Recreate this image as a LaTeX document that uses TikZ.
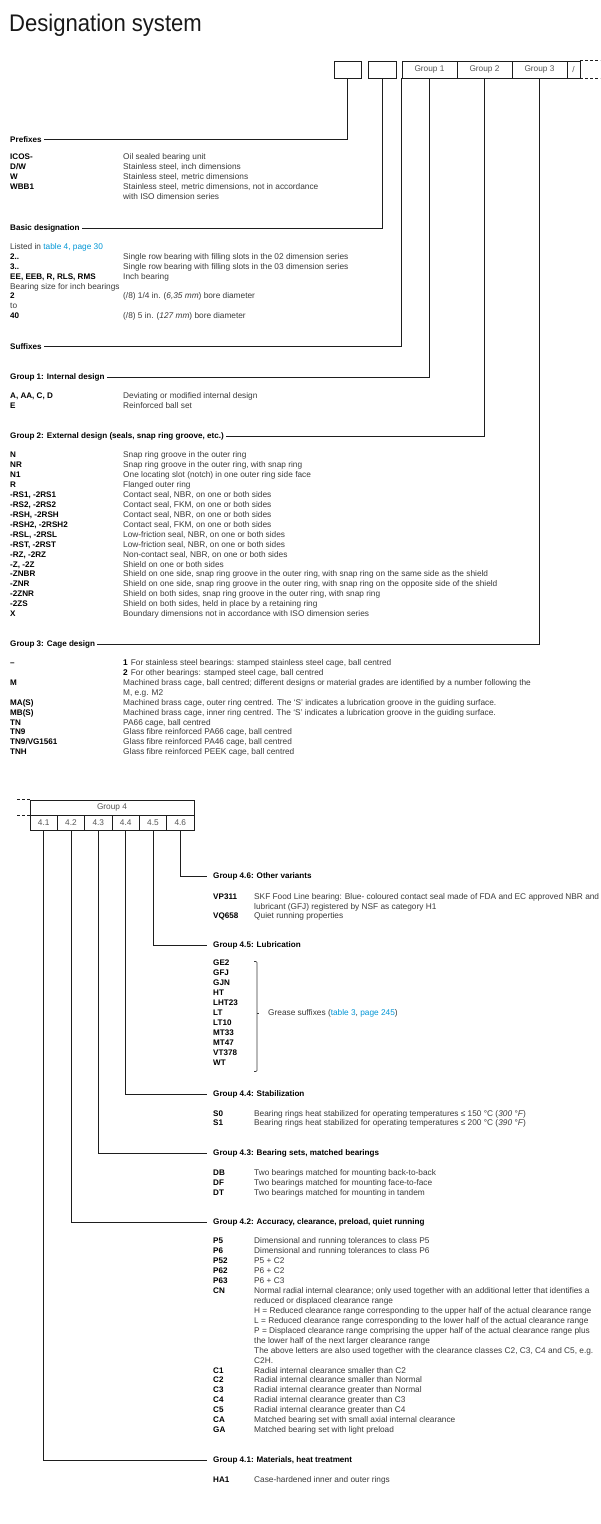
\documentclass[tikz,border=0pt]{standalone}
\usepackage{fontspec}
\setmainfont{Liberation Sans}
\newfontfamily\titlefont{Liberation Sans}[FakeStretch=0.92]
\definecolor{ln}{HTML}{1E1E1E}
\definecolor{txt}{HTML}{3A3A3A}
\definecolor{link}{HTML}{0096D6}
\definecolor{boxtxt}{HTML}{555555}
\newcommand\ent[6]{\node[code] (#1) at (#2,#4) {#5}; \node[desc] (#1d) at (#3,#4) {#6};}
\tikzset{
  basetext/.style={inner sep=0pt, anchor=mid west},
  code/.style={basetext, font=\fontsize{8.1}{10}\selectfont\bfseries, text=black},
  desc/.style={basetext, font=\fontsize{8.3}{10}\selectfont, text=txt},
  head/.style={basetext, font=\fontsize{8.1}{10}\selectfont\bfseries, text=black},
  conn/.style={draw=ln, line width=0.75pt},
  cell/.style={draw=ln, line width=0.75pt, inner sep=0pt, font=\fontsize{8.3}{10}\selectfont, text=boxtxt},
  dashline/.style={draw=ln, line width=0.75pt, dash pattern=on 3pt off 2pt},
}
\begin{document}
\begin{tikzpicture}[x=1pt,y=-1pt]
\fill[white] (0,0) rectangle (600,1524);
\path[use as bounding box] (0,0) rectangle (600,1524);

% title
\node[inner sep=0pt, anchor=base west, font=\titlefont\fontsize{24}{28}\selectfont, text=black!90] (title) at (9,31) {Designation system};

% top boxes
\node[cell, minimum width=27pt, minimum height=17pt] (b1) at (347.5,69.5) {};
\node[cell, minimum width=28pt, minimum height=17pt] (b2) at (382,69.5) {};
\node[cell, minimum width=55pt, minimum height=17pt] (g1) at (429.5,69.5) {Group 1};
\node[cell, minimum width=55pt, minimum height=17pt] (g2) at (484.5,69.5) {Group 2};
\node[cell, minimum width=55pt, minimum height=17pt] (g3) at (539.5,69.5) {Group 3};
\node[cell, minimum width=13pt, minimum height=17pt] (sl) at (573.5,69.5) {/};
\draw[dashline] (sl.north east) -- ++(20,0);
\draw[dashline] (sl.south east) -- ++(20,0);

% ---------------- Prefixes
\node[head] (pref) at (10,140) {Prefixes};
\draw[conn] (b1.south) |- ([xshift=2pt]pref.east);
\ent{icos}{10}{123}{157}{ICOS-}{Oil sealed bearing unit}
\ent{dw}{10}{123}{167}{D/W}{Stainless steel, inch dimensions}
\ent{w}{10}{123}{177}{W}{Stainless steel, metric dimensions}
\ent{wbb}{10}{123}{187}{WBB1}{Stainless steel, metric dimensions, not in accordance}
\node[desc] (wbbb) at (123,197) {with ISO dimension series};

% ---------------- Basic designation
\node[head] (basic) at (10,228) {Basic designation};
\draw[conn] (b2.south) |- ([xshift=2pt]basic.east);
\node[desc] (listed) at (10,247) {Listed in \textcolor{link}{table 4, page 30}};
\ent{bd2}{10}{123}{257}{2..}{Single row bearing with filling slots in the 02 dimension series}
\ent{bd3}{10}{123}{267}{3..}{Single row bearing with filling slots in the 03 dimension series}
\ent{ee}{10}{123}{276.5}{EE, EEB, R, RLS, RMS}{Inch bearing}
\node[desc] (bsize) at (10,286.5) {Bearing size for inch bearings};
\ent{sz2}{10}{123}{296}{2}{(/8) 1/4 in. (\textit{6,35 mm}) bore diameter}
\node[desc] (to) at (10,306) {to};
\ent{sz40}{10}{123}{316}{40}{(/8) 5 in. (\textit{127 mm}) bore diameter}

% ---------------- Suffixes
\node[head] (suff) at (10,346.5) {Suffixes};
\draw[conn] (g1.south west) |- ([xshift=2pt]suff.east);

% ---------------- Group 1
\node[head] (h1) at (10,377) {Group 1: Internal design};
\draw[conn] (g1.south) |- ([xshift=2pt]h1.east);
\ent{ia}{10}{123}{396}{A, AA, C, D}{Deviating or modified internal design}
\ent{ie}{10}{123}{406}{E}{Reinforced ball set}

% ---------------- Group 2
\node[head] (h2) at (10,436) {Group 2: External design (seals, snap ring groove, etc.)};
\draw[conn] (g2.south) |- ([xshift=2pt]h2.east);
\ent{en}{10}{123}{455}{N}{Snap ring groove in the outer ring}
\ent{enr}{10}{123}{464.9}{NR}{Snap ring groove in the outer ring, with snap ring}
\ent{enone}{10}{123}{474.9}{N1}{One locating slot (notch) in one outer ring side face}
\ent{er}{10}{123}{484.8}{R}{Flanged outer ring}
\ent{ers1}{10}{123}{494.8}{-RS1, -2RS1}{Contact seal, NBR, on one or both sides}
\ent{ers2}{10}{123}{504.7}{-RS2, -2RS2}{Contact seal, FKM, on one or both sides}
\ent{ersh}{10}{123}{514.6}{-RSH, -2RSH}{Contact seal, NBR, on one or both sides}
\ent{ersh2}{10}{123}{524.6}{-RSH2, -2RSH2}{Contact seal, FKM, on one or both sides}
\ent{ersl}{10}{123}{534.5}{-RSL, -2RSL}{Low-friction seal, NBR, on one or both sides}
\ent{erst}{10}{123}{544.5}{-RST, -2RST}{Low-friction seal, NBR, on one or both sides}
\ent{erz}{10}{123}{554.4}{-RZ, -2RZ}{Non-contact seal, NBR, on one or both sides}
\ent{ez}{10}{123}{564.4}{-Z, -2Z}{Shield on one or both sides}
\ent{eznbr}{10}{123}{574.3}{-ZNBR}{Shield on one side, snap ring groove in the outer ring, with snap ring on the same side as the shield}
\ent{eznr}{10}{123}{584.2}{-ZNR}{Shield on one side, snap ring groove in the outer ring, with snap ring on the opposite side of the shield}
\ent{ezznr}{10}{123}{594.2}{-2ZNR}{Shield on both sides, snap ring groove in the outer ring, with snap ring}
\ent{ezzs}{10}{123}{604.1}{-2ZS}{Shield on both sides, held in place by a retaining ring}
\ent{ex}{10}{123}{614}{X}{Boundary dimensions not in accordance with ISO dimension series}

% ---------------- Group 3
\node[head] (h3) at (10,644) {Group 3: Cage design};
\draw[conn] (g3.south) |- ([xshift=2pt]h3.east);
\ent{cdash}{10}{123}{663}{--}{\textbf{\textcolor{black}{1}}\hspace{3pt}For stainless steel bearings: stamped stainless steel cage, ball centred}
\node[desc] (ctwo) at (123,672.9) {\textbf{\textcolor{black}{2}}\hspace{3pt}For other bearings: stamped steel cage, ball centred};
\ent{cm}{10}{123}{682.8}{M}{Machined brass cage, ball centred; different designs or material grades are identified by a number following the}
\node[desc] (cmb) at (123,692.7) {M, e.g. M2};
\ent{cma}{10}{123}{702.6}{MA(S)}{Machined brass cage, outer ring centred. The ‘S’ indicates a lubrication groove in the guiding surface.}
\ent{cmbs}{10}{123}{712.5}{MB(S)}{Machined brass cage, inner ring centred. The ‘S’ indicates a lubrication groove in the guiding surface.}
\ent{ctn}{10}{123}{722.4}{TN}{PA66 cage, ball centred}
\ent{ctn9}{10}{123}{732.3}{TN9}{Glass fibre reinforced PA66 cage, ball centred}
\ent{ctnvg}{10}{123}{742.2}{TN9/VG1561}{Glass fibre reinforced PA46 cage, ball centred}
\ent{ctnh}{10}{123}{752.1}{TNH}{Glass fibre reinforced PEEK cage, ball centred}

% ---------------- Group 4 boxes
\node[cell, minimum width=164pt, minimum height=15pt] (g4) at (112,807.5) {Group 4};
\node[cell, minimum width=27.33pt, minimum height=15pt] (s41) at (43.67,822.5) {4.1};
\node[cell, minimum width=27.33pt, minimum height=15pt] (s42) at (71,822.5) {4.2};
\node[cell, minimum width=27.33pt, minimum height=15pt] (s43) at (98.33,822.5) {4.3};
\node[cell, minimum width=27.33pt, minimum height=15pt] (s44) at (125.67,822.5) {4.4};
\node[cell, minimum width=27.33pt, minimum height=15pt] (s45) at (153,822.5) {4.5};
\node[cell, minimum width=27.33pt, minimum height=15pt] (s46) at (180.33,822.5) {4.6};
\draw[dashline] (g4.north west) -- ++(-14,0);
\draw[dashline] (g4.south west) -- ++(-14,0);

% ---------------- Group 4.6
\node[head] (h46) at (213,876) {Group 4.6: Other variants};
\draw[conn] (s46.south) |- ([xshift=-6pt]h46.west);
\ent{vp}{213}{254}{897}{VP311}{SKF Food Line bearing: Blue- coloured contact seal made of FDA and EC approved NBR and}
\node[desc] (vpb) at (254,906.5) {lubricant (GFJ) registered by NSF as category H1};
\ent{vq}{213}{254}{916}{VQ658}{Quiet running properties}

% ---------------- Group 4.5
\node[head] (h45) at (213,945) {Group 4.5: Lubrication};
\draw[conn] (s45.south) |- ([xshift=-6pt]h45.west);
\node[code] (ge2) at (213,963) {GE2};
\node[code] (gfj) at (213,973) {GFJ};
\node[code] (gjn) at (213,983) {GJN};
\node[code] (ht) at (213,993) {HT};
\node[code] (lht) at (213,1003) {LHT23};
\node[code] (lt) at (213,1013) {LT};
\node[code] (lt10) at (213,1023) {LT10};
\node[code] (mt33) at (213,1033) {MT33};
\node[code] (mt47) at (213,1043) {MT47};
\node[code] (vt) at (213,1053) {VT378};
\node[code] (wt) at (213,1063) {WT};
\draw[draw=txt, line width=0.6pt, rounded corners=1pt] (254,961.5) -- (257,961.5) -- (257,1071.5) -- (254,1071.5);
\draw[draw=txt, line width=0.6pt] (257,1013) -- (258.5,1013);
\node[desc] (grease) at (268,1013) {Grease suffixes (\textcolor{link}{table 3}, \textcolor{link}{page 245})};

% ---------------- Group 4.4
\node[head] (h44) at (213,1093.5) {Group 4.4: Stabilization};
\draw[conn] (s44.south) |- ([xshift=-6pt]h44.west);
\ent{st0}{213}{254}{1113.5}{S0}{Bearing rings heat stabilized for operating temperatures ≤ 150 °C (\textit{300 °F})}
\ent{st1}{213}{254}{1123}{S1}{Bearing rings heat stabilized for operating temperatures ≤ 200 °C (\textit{390 °F})}

% ---------------- Group 4.3
\node[head] (h43) at (213,1152.5) {Group 4.3: Bearing sets, matched bearings};
\draw[conn] (s43.south) |- ([xshift=-6pt]h43.west);
\ent{db}{213}{254}{1172.5}{DB}{Two bearings matched for mounting back-to-back}
\ent{df}{213}{254}{1182.5}{DF}{Two bearings matched for mounting face-to-face}
\ent{dt}{213}{254}{1192.5}{DT}{Two bearings matched for mounting in tandem}

% ---------------- Group 4.2
\node[head] (h42) at (213,1221.5) {Group 4.2: Accuracy, clearance, preload, quiet running};
\draw[conn] (s42.south) |- ([xshift=-6pt]h42.west);
\ent{pfive}{213}{254}{1241}{P5}{Dimensional and running tolerances to class P5}
\ent{psix}{213}{254}{1250.95}{P6}{Dimensional and running tolerances to class P6}
\ent{p52}{213}{254}{1260.9}{P52}{P5 + C2}
\ent{p62}{213}{254}{1270.85}{P62}{P6 + C2}
\ent{p63}{213}{254}{1280.8}{P63}{P6 + C3}
\ent{cn}{213}{254}{1290.75}{CN}{Normal radial internal clearance; only used together with an additional letter that identifies a}
\node[desc] (cn2) at (254,1300.7) {reduced or displaced clearance range};
\node[desc] (cn3) at (254,1310.65) {H = Reduced clearance range corresponding to the upper half of the actual clearance range};
\node[desc] (cn4) at (254,1320.6) {L = Reduced clearance range corresponding to the lower half of the actual clearance range};
\node[desc] (cn5) at (254,1330.55) {P = Displaced clearance range comprising the upper half of the actual clearance range plus};
\node[desc] (cn6) at (254,1340.5) {the lower half of the next larger clearance range};
\node[desc] (cn7) at (254,1350.45) {The above letters are also used together with the clearance classes C2, C3, C4 and C5, e.g.};
\node[desc] (cn8) at (254,1360.4) {C2H.};
\ent{cone}{213}{254}{1370.35}{C1}{Radial internal clearance smaller than C2}
\ent{ctwo}{213}{254}{1380.3}{C2}{Radial internal clearance smaller than Normal}
\ent{cthree}{213}{254}{1390.25}{C3}{Radial internal clearance greater than Normal}
\ent{cfour}{213}{254}{1400.2}{C4}{Radial internal clearance greater than C3}
\ent{cfive}{213}{254}{1410.15}{C5}{Radial internal clearance greater than C4}
\ent{ca}{213}{254}{1420.1}{CA}{Matched bearing set with small axial internal clearance}
\ent{gaa}{213}{254}{1430.05}{GA}{Matched bearing set with light preload}

% ---------------- Group 4.1
\node[head] (h41) at (213,1459.5) {Group 4.1: Materials, heat treatment};
\draw[conn] (s41.south) |- ([xshift=-6pt]h41.west);
\ent{ha}{213}{254}{1480}{HA1}{Case-hardened inner and outer rings}
\end{tikzpicture}
\end{document}
